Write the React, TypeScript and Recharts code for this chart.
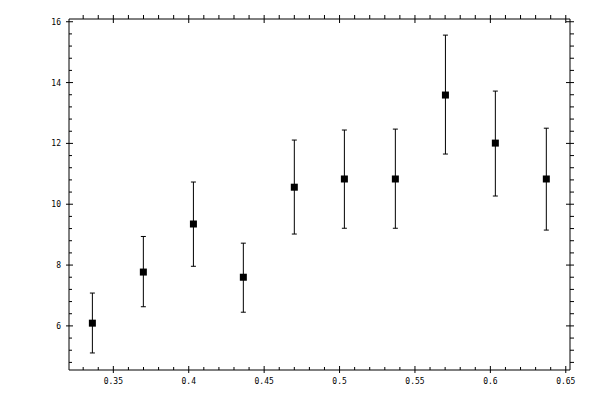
import React from 'react';
import { ScatterChart, Scatter, XAxis, YAxis, ErrorBar } from 'recharts';

const xValues = [0.3361, 0.3699, 0.4031, 0.4362, 0.47, 0.5032, 0.537, 0.5702, 0.6033, 0.6371];
const yValues = [6.09, 7.77, 9.35, 7.6, 10.56, 10.83, 10.83, 13.59, 12.01, 10.83];
const yLower = [5.11, 6.63, 7.96, 6.45, 9.02, 9.21, 9.21, 11.65, 10.27, 9.15];
const yUpper = [7.08, 8.94, 10.73, 8.72, 12.11, 12.44, 12.47, 15.56, 13.72, 12.5];

const xMajorTicks = [0.35, 0.4, 0.45, 0.5, 0.55, 0.6, 0.65];
const xMinorTicks = [0.33, 0.34, 0.36, 0.37, 0.38, 0.39, 0.41, 0.42, 0.43, 0.44, 0.46, 0.47, 0.48, 0.49,
  0.51, 0.52, 0.53, 0.54, 0.56, 0.57, 0.58, 0.59, 0.61, 0.62, 0.63, 0.64];
const yMajorTicks = [6, 8, 10, 12, 14, 16];
const yMinorTicks = [4.8, 5.2, 5.6, 6.4, 6.8, 7.2, 7.6, 8.4, 8.8, 9.2, 9.6, 10.4, 10.8, 11.2, 11.6,
  12.4, 12.8, 13.2, 13.6, 14.4, 14.8, 15.2, 15.6];

const xDomain = [0.3206, 0.6528];
const yDomain = [4.55, 16.09];

const data = xValues.map((x, i) => ({
  x,
  y: yValues[i],
  err: [yValues[i] - yLower[i], yUpper[i] - yValues[i]],
}));

const xTicks = [...xMinorTicks, ...xMajorTicks].sort((a, b) => a - b);
const yTicks = [...yMinorTicks, ...yMajorTicks].sort((a, b) => a - b);

const font = { fontFamily: 'DejaVu Sans Mono', fontSize: 8, fill: '#000' };

const BottomTick = (props: any) => {
  const { x, y, payload } = props;
  const major = xMajorTicks.includes(payload.value);
  return (
    <g>
      <line x1={x} x2={x} y1={major ? y - 4 : y - 3} y2={major ? y + 3 : y} stroke="#000" />
      {major && (
        <text x={x} y={y + 14} textAnchor="middle" {...font}>
          {String(payload.value)}
        </text>
      )}
    </g>
  );
};

const TopTick = (props: any) => {
  const { x, y, payload } = props;
  const major = xMajorTicks.includes(payload.value);
  return <line x1={x} x2={x} y1={y - 4} y2={major ? y + 4 : y} stroke="#000" />;
};

const LeftTick = (props: any) => {
  const { x, y, payload } = props;
  const major = yMajorTicks.includes(payload.value);
  return (
    <g>
      <line x1={major ? x - 3 : x} x2={major ? x + 4 : x + 3} y1={y} y2={y} stroke="#000" />
      {major && (
        <text x={x - 8} y={y + 3} textAnchor="end" {...font}>
          {String(payload.value)}
        </text>
      )}
    </g>
  );
};

const RightTick = (props: any) => {
  const { x, y, payload } = props;
  const major = yMajorTicks.includes(payload.value);
  return <line x1={major ? x - 4 : x} x2={x + 4} y1={y} y2={y} stroke="#000" />;
};

const SquareDot = (props: any) => {
  const { cx, cy } = props;
  return <rect x={cx - 3.5} y={cy - 3.5} width={7} height={7} fill="#000" />;
};

const NoDot = () => null;

export default function App() {
  return (
    <div style={{ position: 'absolute', left: 0, top: 0, background: '#fff' }}>
      <ScatterChart width={600} height={400} margin={{ top: 0, right: 0, bottom: 0, left: 0 }}>
        <XAxis
          xAxisId="b"
          dataKey="x"
          type="number"
          orientation="bottom"
          domain={xDomain}
          ticks={xTicks}
          interval={0}
          height={30}
          tickSize={0}
          tickMargin={0}
          tick={BottomTick}
          axisLine={{ stroke: '#000' }}
          allowDataOverflow
        />
        <XAxis
          xAxisId="t"
          dataKey="x"
          type="number"
          orientation="top"
          domain={xDomain}
          ticks={xTicks}
          interval={0}
          height={19}
          tickSize={0}
          tickMargin={0}
          tick={TopTick}
          axisLine={{ stroke: '#000' }}
          allowDataOverflow
        />
        <YAxis
          yAxisId="l"
          dataKey="y"
          type="number"
          orientation="left"
          domain={yDomain}
          ticks={yTicks}
          interval={0}
          width={69}
          tickSize={0}
          tickMargin={0}
          tick={LeftTick}
          axisLine={{ stroke: '#000' }}
          allowDataOverflow
        />
        <YAxis
          yAxisId="r"
          dataKey="y"
          type="number"
          orientation="right"
          domain={yDomain}
          ticks={yTicks}
          interval={0}
          width={30}
          tickSize={0}
          tickMargin={0}
          tick={RightTick}
          axisLine={{ stroke: '#000' }}
          allowDataOverflow
        />
        {/* invisible copy so the mirrored frame axes get drawn */}
        <Scatter data={data} xAxisId="t" yAxisId="r" shape={NoDot} isAnimationActive={false} />
        <Scatter
          data={data}
          xAxisId="b"
          yAxisId="l"
          shape={SquareDot}
          isAnimationActive={false}
        >
          <ErrorBar dataKey="err" direction="y" width={2.5} stroke="#000" strokeWidth={1} isAnimationActive={false} />
        </Scatter>
      </ScatterChart>
    </div>
  );
}
